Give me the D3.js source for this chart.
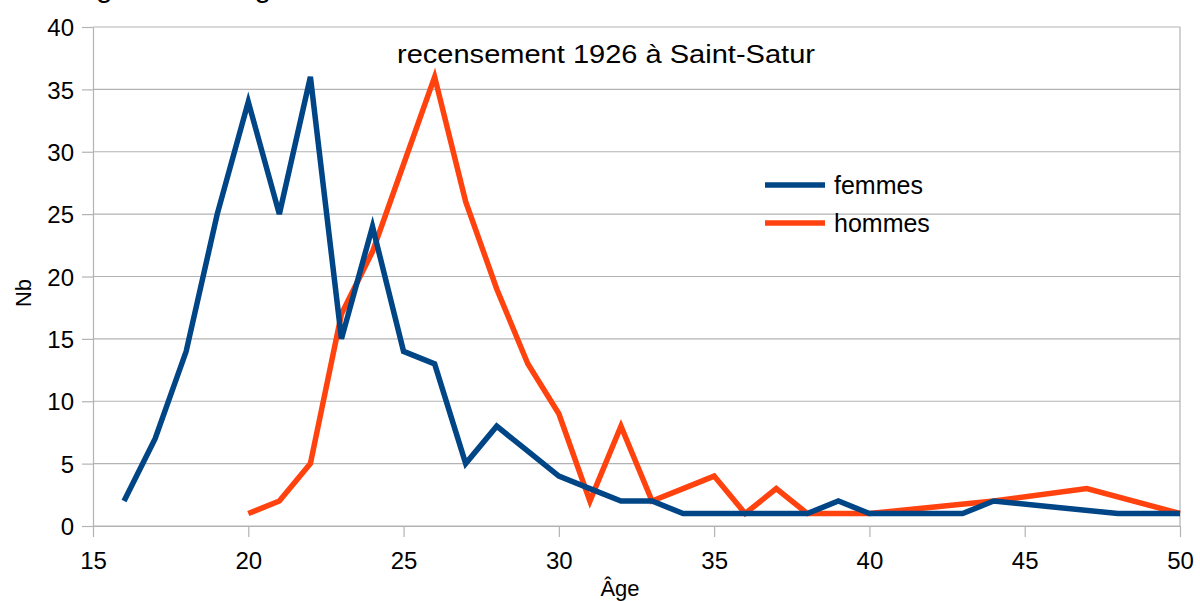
<!DOCTYPE html>
<html>
<head>
<meta charset="utf-8">
<script src="https://cdn.jsdelivr.net/npm/d3@7"></script>
<style>
    body { margin:0; background:#fff; }
    svg { display:block; font-family:'Liberation Sans', Arial, sans-serif; }
    .grid line { stroke:#b3b3b3; stroke-width:1.2; }
    .axis path, .axis line { stroke:#b3b3b3; stroke-width:1.2; }
    .axis text { fill:#000; font-size:24px; }
</style>
</head>
<body>
<svg id="chart" width="1200" height="601"></svg>
<script>
var femmesAge = [16,17,18,19,20,21,22,23,24,25,26,27,28,29,30,31,32,33,34,35,36,37,38,39,40,41,42,43,44,48,50];
var femmesNb  = [2,7,14,25,34,25,36,15,24,14,13,5,8,6,4,3,2,2,1,1,1,1,1,2,1,1,1,1,2,1,1];
var hommesAge = [20,21,22,23,24,25,26,27,28,29,30,31,32,33,34,35,36,37,38,39,40,44,47,50];
var hommesNb  = [1,2,5,17,22,29,36,26,19,13,9,2,8,2,3,4,1,3,1,1,1,2,3,1];
var xTicks = [15,20,25,30,35,40,45,50];
var yTicks = [0,5,10,15,20,25,30,35,40];
var seriesNames = ['femmes','hommes'];
var seriesColors = ['#004586','#ff420e'];

var svg = d3.select('#chart');
var x = d3.scaleLinear().domain([15,50]).range([93,1180]);
var y = d3.scaleLinear().domain([0,40]).range([526,27]);

svg.append('g').classed('grid',true)
    .selectAll('line').data(yTicks).enter().append('line')
    .attr('x1',x(15)).attr('x2',x(50))
    .attr('y1',function (d) { return y(d); }).attr('y2',function (d) { return y(d); });
svg.append('line').attr('x1',x(50)).attr('x2',x(50)).attr('y1',y(40)).attr('y2',y(0))
    .attr('stroke','#b3b3b3').attr('stroke-width',1.2);

var xAxis = svg.append('g').classed('axis',true).attr('transform','translate(0,' + y(0) + ')')
    .call(d3.axisBottom(x).tickValues(xTicks).tickSize(11).tickPadding(15).tickSizeOuter(0));
var yAxis = svg.append('g').classed('axis',true).attr('transform','translate(' + x(15) + ',0)')
    .call(d3.axisLeft(y).tickValues(yTicks).tickSize(11).tickPadding(8).tickSizeOuter(0));
xAxis.selectAll('text').attr('dy','0.71em');
yAxis.selectAll('text').attr('dy','0.36em');

var line = d3.line()
    .x(function (d) { return x(d[0]); })
    .y(function (d) { return y(d[1]); });
var data = [d3.zip(femmesAge,femmesNb), d3.zip(hommesAge,hommesNb)];
// hommes drawn first, femmes on top
[1,0].forEach(function (i) {
    svg.append('path').datum(data[i])
        .attr('d',line)
        .attr('fill','none')
        .attr('stroke',seriesColors[i])
        .attr('stroke-width',5.5)
        .attr('stroke-linejoin','miter');
});

var legend = svg.append('g').attr('transform','translate(765,185)');
seriesNames.forEach(function (name,i) {
    var g = legend.append('g').attr('transform','translate(0,' + (i * 38) + ')');
    g.append('line').attr('x1',0).attr('x2',60).attr('y1',0).attr('y2',0)
        .attr('stroke',seriesColors[i]).attr('stroke-width',5.5);
    g.append('text').attr('x',69).attr('y',9).attr('font-size',25).text(name);
});

svg.append('text').attr('x',397).attr('y',63)
    .attr('font-size',26).attr('textLength',418).attr('lengthAdjust','spacingAndGlyphs')
    .text('recensement 1926 à Saint-Satur');
svg.append('text').attr('x',76).attr('y',-3).attr('font-size',30).text('Âge au mariage');
svg.append('text').attr('x',620).attr('y',596).attr('text-anchor','middle')
    .attr('font-size',22).text('Âge');
svg.append('text').attr('transform','translate(31,293) rotate(-90)').attr('text-anchor','middle')
    .attr('font-size',22).text('Nb');
</script>
</body>
</html>
